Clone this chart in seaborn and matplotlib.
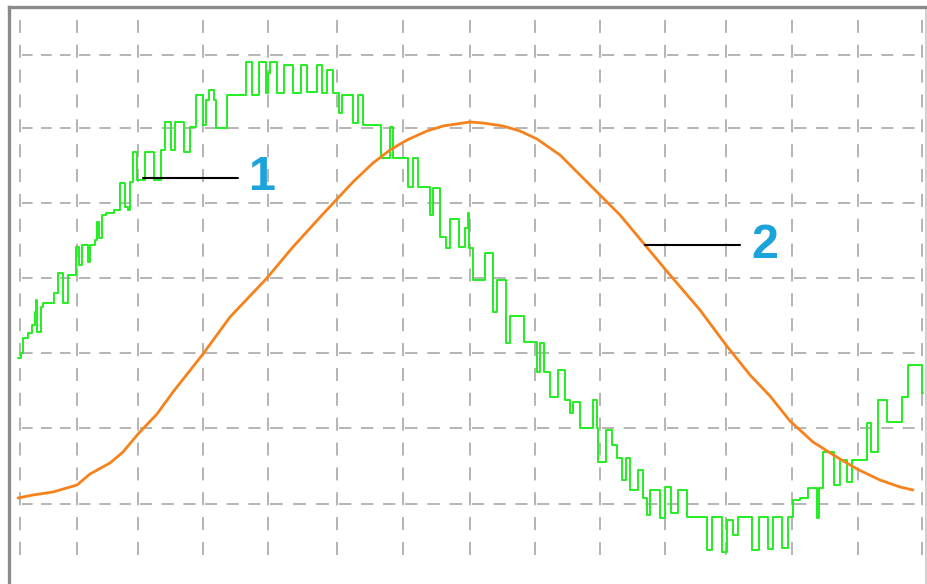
import matplotlib
matplotlib.use("Agg")
import matplotlib.pyplot as plt
import pandas as pd
import seaborn as sns

# trace 1 (quantised, stepped) : sample index, ADC level
green_x = [18, 21, 23, 28, 32, 35, 36, 37, 41, 43, 54, 58, 63, 68, 76, 79, 82, 88, 90, 95,
           97, 99, 102, 106, 114, 120, 125, 128, 130, 133, 137, 145, 154, 161, 165, 171, 175,
           184, 190, 196, 203, 206, 209, 214, 216, 227, 246, 252, 259, 266, 268, 270, 277,
           284, 293, 301, 307, 317, 322, 327, 333, 339, 342, 353, 358, 363, 381, 390, 393,
           408, 413, 418, 430, 433, 440, 446, 450, 459, 465, 468, 469, 473, 485, 493, 497,
           506, 510, 524, 537, 540, 544, 550, 558, 565, 570, 573, 580, 593, 597, 598, 606,
           612, 617, 622, 626, 630, 638, 643, 647, 650, 660, 665, 671, 678, 687, 707, 712,
           722, 727, 733, 738, 752, 759, 768, 773, 782, 788, 793, 800, 808, 817, 819, 823,
           834, 840, 847, 852, 867, 871, 878, 887, 902, 908, 922, 923]
green_y = [242, 247, 262, 267, 275, 288, 300, 268, 293, 297, 307, 327, 297, 325, 353, 335, 355,
           338, 355, 360, 378, 362, 385, 387, 390, 417, 393, 390, 418, 448, 420, 448, 420, 450,
           478, 450, 478, 448, 473, 505, 475, 500, 510, 500, 472, 505, 538, 505, 538, 507, 527,
           538, 507, 535, 507, 535, 508, 535, 507, 530, 507, 487, 505, 477, 505, 475, 442, 473,
           442, 413, 442, 413, 385, 412, 363, 352, 381, 353, 372, 387, 352, 320, 347, 288, 320,
           257, 284, 258, 228, 257, 228, 203, 230, 200, 187, 198, 172, 200, 172, 138, 170, 155,
           142, 120, 142, 110, 130, 102, 85, 110, 82, 113, 87, 110, 83, 50, 83, 48, 80, 65, 83,
           50, 83, 51, 83, 52, 83, 100, 102, 112, 82, 112, 148, 115, 140, 118, 140, 177, 148,
           200, 178, 203, 235, 207, 207]

# trace 2 (smooth, lagging)
orange_x = [18, 33, 53, 77, 90, 110, 123, 138, 157, 173, 203, 230, 267, 292, 323, 338, 353,
            373, 390, 407, 427, 443, 470, 483, 503, 520, 537, 560, 580, 600, 620, 645, 670,
            700, 726, 750, 770, 790, 813, 835, 857, 880, 900, 913]
orange_y = [102, 105, 108, 115, 126, 137, 148, 166, 186, 208, 246, 283, 322, 352, 386, 402,
            418, 437, 450, 460, 469, 474, 478, 477, 474, 469, 461, 445, 425, 405, 385, 355,
            325, 290, 255, 225, 204, 179, 158, 144, 131, 120, 113, 110]

labels = ["1", "2"]
label_x = [263, 765]
label_y = [422, 355]
leader_start = [143, 645]
leader_end = [238, 740]

# graticule positions as drawn on the screen
grid_xs = [20, 77, 138, 203, 268, 337, 403, 470, 535, 600, 665, 726, 792, 858, 922]
grid_ys = [96, 172, 247, 322, 397, 472, 545]

plt.rcParams["lines.scale_dashes"] = False
sns.set_style("white")
plt.rcParams["font.family"] = ["Liberation Sans", "DejaVu Sans"]

fig = plt.figure(figsize=(9.28, 5.84), dpi=100)
ax = fig.add_axes([9.5 / 928, -16 / 584, 917 / 928, 593.5 / 584])
ax.set_xlim(9.5, 926.5)
ax.set_ylim(0, 593.5)

grid_col = "#b4b4b4"
step_y = (grid_ys[1] - grid_ys[0]) / 3
for x in grid_xs:
    ax.plot([x, x], [grid_ys[0] - 2 * step_y, 583], color=grid_col, lw=1.4,
            ls=(0, (9.4, 8.5)), zorder=1)
for y in grid_ys:
    for xa, xb in zip(grid_xs[:-1], grid_xs[1:]):
        d = (xb - xa) / 3 * 0.72
        ax.plot([xa + 2, xb], [y, y], color=grid_col, lw=1.4,
                ls=(0, (d * 0.56, d * 0.44)), zorder=1)

green = pd.DataFrame({"t": green_x, "v": green_y})
orange = pd.DataFrame({"t": orange_x, "v": orange_y})
sns.lineplot(data=green, x="t", y="v", estimator=None, drawstyle="steps-post",
             color="#22ee22", lw=1.4, ax=ax, zorder=3)
sns.lineplot(data=orange, x="t", y="v", estimator=None, color="#f7821c", lw=2.0,
             ax=ax, zorder=4)

for lab, lx, ly, x0, x1 in zip(labels, label_x, label_y, leader_start, leader_end):
    ax.plot([x0, x1], [ly, ly], color="black", lw=1.5, zorder=5)
    ax.text(lx, ly, lab, ha="center", va="center", fontsize=35, fontweight="bold",
            color="#1ba3dc", zorder=6)

ax.set_xticks([])
ax.set_yticks([])
ax.set_xlabel("")
ax.set_ylabel("")
ax.spines["left"].set_color("#8a8a8a")
ax.spines["left"].set_linewidth(2.4)
ax.spines["top"].set_color("#8a8a8a")
ax.spines["top"].set_linewidth(2.4)
ax.spines["right"].set_color("#c8c8c8")
ax.spines["right"].set_linewidth(1.2)
ax.spines["bottom"].set_visible(False)

fig.savefig("out.png", dpi=100)
